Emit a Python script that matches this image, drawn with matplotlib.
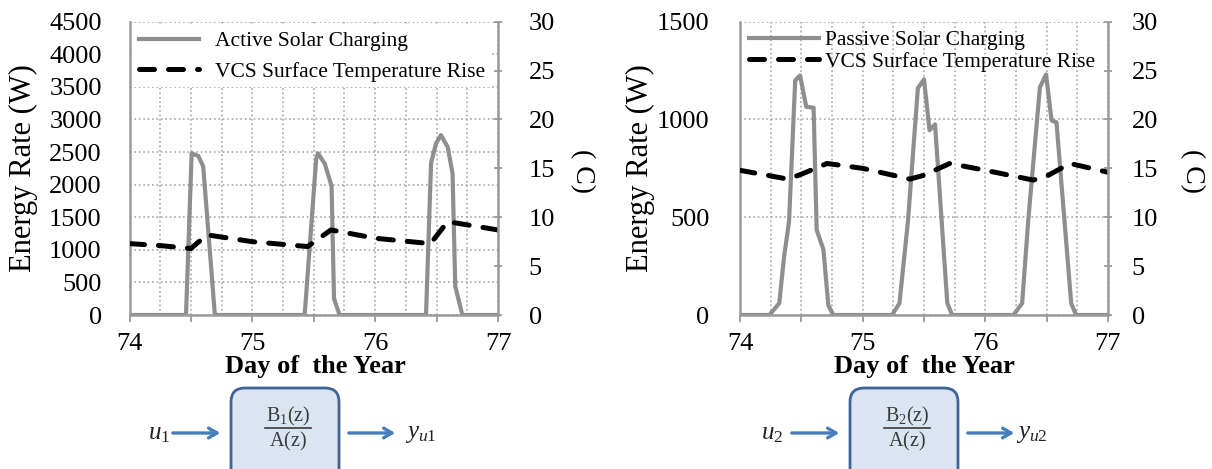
import matplotlib
matplotlib.use("Agg")
import matplotlib.pyplot as plt
from matplotlib.patches import FancyBboxPatch
from matplotlib.ticker import MultipleLocator, FuncFormatter

plt.rcParams['font.family'] = ['Liberation Serif', 'DejaVu Serif']
plt.rcParams['mathtext.fontset'] = 'custom'
plt.rcParams['mathtext.rm'] = 'Liberation Serif'
plt.rcParams['mathtext.it'] = 'Liberation Serif:italic'

# Active solar charging (W), left panel
active_day = [74.0, 74.46, 74.506, 74.56, 74.60, 74.695,
              75.0, 75.426, 75.52, 75.535, 75.59, 75.645, 75.665, 75.71,
              76.0, 76.414, 76.455, 76.495, 76.535, 76.59, 76.63, 76.652, 76.71, 77.0]
active_w = [0, 0, 2480, 2440, 2280, 0,
            0, 0, 2400, 2480, 2320, 1980, 250, 0,
            0, 0, 2330, 2630, 2760, 2580, 2170, 440, 0, 0]

# VCS surface temperature rise (C), left panel
temp1_day = [74.0, 74.25, 74.5, 74.63, 75.0, 75.45, 75.64, 76.0, 76.45, 76.59, 77.0]
temp1_c = [7.3, 7.1, 6.8, 8.2, 7.5, 7.0, 8.7, 7.85, 7.3, 9.55, 8.7]

# Passive solar charging (W), right panel
passive_day = [74.0, 74.24, 74.32, 74.36, 74.40, 74.45, 74.49, 74.54, 74.60, 74.625, 74.68, 74.72, 74.76,
               75.0, 75.24, 75.30, 75.37, 75.45, 75.50, 75.545, 75.59, 75.69, 75.73,
               76.0, 76.23, 76.30, 76.35, 76.445, 76.495, 76.54, 76.58, 76.70, 76.74, 77.0]
passive_w = [0, 0, 60, 300, 480, 1200, 1225, 1065, 1060, 435, 335, 50, 0,
             0, 0, 60, 485, 1160, 1205, 945, 975, 60, 0,
             0, 0, 60, 485, 1165, 1230, 995, 985, 60, 0, 0]

# VCS surface temperature rise (C), right panel
temp2_day = [74.0, 74.39, 74.5, 74.71, 75.0, 75.385, 75.5, 75.71, 76.0, 76.39, 76.5, 76.69, 77.0]
temp2_c = [14.8, 13.9, 14.4, 15.5, 15.0, 13.9, 14.3, 15.5, 14.8, 13.8, 14.2, 15.5, 14.6]

W, H = 1212, 469
fig = plt.figure(figsize=(W / 100, H / 100), dpi=100)

GRAY = '#8e8e8e'
SPINE = '#9a9a9a'
GRID = '#a8a8a8'
TOP, BOT = 21.7, 315


def fx(px):
    return px / W


def fy(py):
    return 1 - py / H


def panel(x0, x1, series_x, series_y, t_x, t_y, ymax, label, left_pad, right_pad,
          lab_spacing, hlen, htpad, legend_bg, off_y):
    ax = fig.add_axes([fx(x0), fy(BOT), fx(x1 - x0), (BOT - TOP) / H])
    ax.plot(series_x, series_y, color=GRAY, lw=3.0, solid_joinstyle='round', label=label)
    ax.set_xlim(74, 77)
    ax.set_ylim(0, ymax)
    ax.xaxis.set_major_locator(MultipleLocator(0.5))
    ax.xaxis.set_minor_locator(MultipleLocator(0.25))
    ax.xaxis.set_major_formatter(FuncFormatter(lambda v, p: f"{v:.0f}" if abs(v - round(v)) < 1e-6 else ""))
    ax.yaxis.set_major_locator(MultipleLocator(500))
    ax.grid(True, which='both', axis='x', color=GRID, linestyle=':', lw=1.2)
    ax.grid(True, which='major', axis='y', color=GRID, linestyle=':', lw=1.2)
    ax.tick_params(axis='x', which='major', direction='out', length=5, width=1.3, color=SPINE,
                   labelsize=19, pad=8)
    ax.tick_params(axis='x', which='minor', length=0)
    ax.tick_params(axis='y', length=0, labelsize=19, pad=left_pad)
    for s in ['top', 'right']:
        ax.spines[s].set_visible(False)
    for s in ['left', 'bottom']:
        ax.spines[s].set_color(SPINE)
        ax.spines[s].set_linewidth(1.8)
    ax.set_axisbelow(True)

    ax2 = ax.twinx()
    ax2.plot(t_x, t_y, color='black', lw=3.6, linestyle=(0, (3.0, 2.8)), dash_capstyle='round',
             label='VCS Surface Temperature Rise')
    ax2.set_ylim(0, 30)
    ax2.yaxis.set_major_locator(MultipleLocator(5))
    ax2.tick_params(axis='y', direction='inout', length=6, width=1.3, color=SPINE, labelsize=19, pad=right_pad)
    for s in ['top', 'left', 'bottom']:
        ax2.spines[s].set_visible(False)
    ax2.spines['right'].set_color(SPINE)
    ax2.spines['right'].set_linewidth(1.8)

    h1, l1 = ax.get_legend_handles_labels()
    h2, l2 = ax2.get_legend_handles_labels()
    dx = 4 / (x1 - x0)
    dy = off_y / (BOT - TOP)
    leg = ax2.legend(h1 + h2, l1 + l2, loc='upper left', bbox_to_anchor=(dx, 1 - dy), borderaxespad=0,
                     borderpad=0.25, fontsize=15.5, handlelength=hlen, handletextpad=htpad,
                     labelspacing=lab_spacing, frameon=legend_bg, fancybox=False)
    if legend_bg:
        leg.get_frame().set_facecolor('white')
        leg.get_frame().set_edgecolor('none')
        leg.get_frame().set_alpha(1)
    return ax, ax2


panel(129.5, 498, active_day, active_w, temp1_day, temp1_c, 4500,
      'Active Solar Charging', 20, 19, 0.5, 2.8, 0.75, True, 4)
panel(740, 1108, passive_day, passive_w, temp2_day, temp2_c, 1500,
      'Passive Solar Charging', 22, 14, 0.08, 3.25, 0.25, False, 3)

# axis titles
for cx in [23, 640]:
    fig.text(fx(cx), fy(168), 'Energy Rate (W)', rotation=90, ha='center', va='center', fontsize=22)
for cx in [582, 1192]:
    fig.text(fx(cx), fy(171), '( C)', rotation=270, ha='center', va='center', fontsize=20)
for cx in [315, 924]:
    fig.text(fx(cx), fy(366), 'Day of  the Year', ha='center', va='center', fontsize=19, fontweight='bold')

# block diagrams below the charts
ov = fig.add_axes([0, 0, 1, 1])
ov.set_xlim(0, W)
ov.set_ylim(H, 0)
ov.axis('off')

BLUE = '#4a7ebb'
for bx, n, ux, yx in [(231, 1, 159, 421), (850, 2, 772, 1032)]:
    box = FancyBboxPatch((bx, 388), 108, 110, boxstyle='round,pad=0,rounding_size=14',
                         facecolor='#dbe5f1', edgecolor='#3e6496', lw=2.0)
    ov.add_patch(box)
    cx = bx + 57
    ov.text(cx, 416, rf'$\mathrm{{B}}_{n}\mathrm{{(z)}}$', ha='center', va='center', fontsize=14.5, color='#3a3a3a')
    ov.plot([cx - 23, cx + 23], [428, 428], color='#3a3a3a', lw=1.2)
    ov.text(cx, 441, r'$\mathrm{A(z)}$', ha='center', va='center', fontsize=14.5, color='#3a3a3a')
    ov.annotate('', xy=(bx - 8, 433), xytext=(bx - 61, 433),
                arrowprops=dict(arrowstyle='->,head_length=0.6,head_width=0.35', color=BLUE, lw=2.4))
    ov.annotate('', xy=(bx + 167, 433), xytext=(bx + 115, 433),
                arrowprops=dict(arrowstyle='->,head_length=0.6,head_width=0.35', color=BLUE, lw=2.4))
    ov.text(ux, 434, rf'$u_\mathit{{{n}}}$', ha='center', va='center', fontsize=18, color='#222222')
    ov.text(yx, 434, rf'$y_\mathit{{u{n}}}$', ha='center', va='center', fontsize=18, color='#222222')

fig.savefig('out.png', dpi=100)
